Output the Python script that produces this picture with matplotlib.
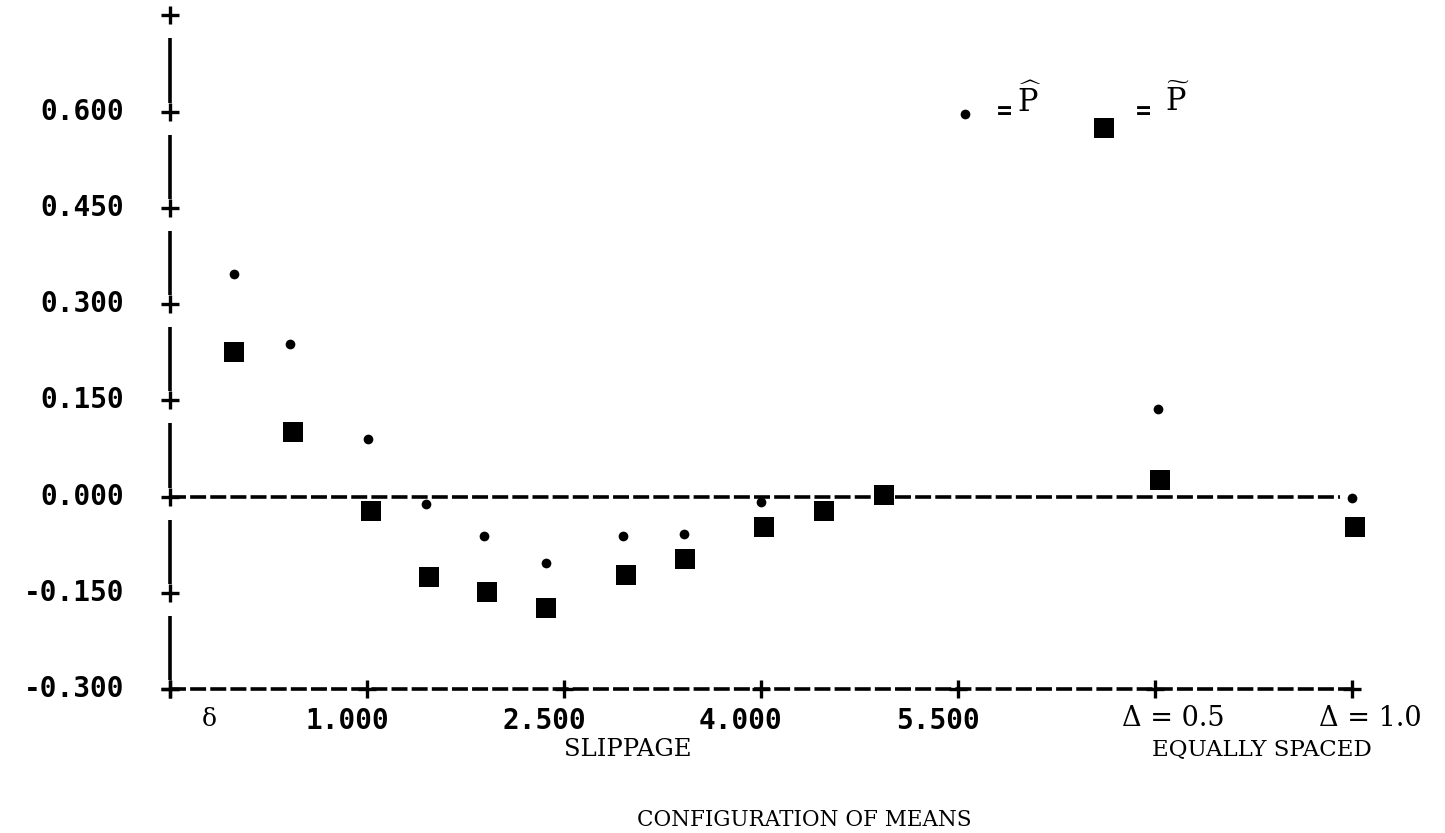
import matplotlib
matplotlib.use('Agg')
import matplotlib.pyplot as plt
from matplotlib.transforms import ScaledTranslation

plt.rcParams['lines.scale_dashes'] = False

# ---- data ----
# P-tilde (large squares)
sq_x = [-0.01, 0.44, 1.03, 1.47, 1.91, 2.36, 2.97, 3.42, 4.02, 4.48, 4.94, 7.04, 8.52]
sq_y = [0.226, 0.101, -0.023, -0.125, -0.149, -0.173, -0.123, -0.097, -0.047, -0.022, 0.003, 0.026, -0.048]
# P-hat (small dots)
dot_x = [-0.01, 0.41, 1.01, 1.45, 1.89, 2.36, 2.95, 3.41, 4.00, 7.02, 8.50]
dot_y = [0.347, 0.238, 0.089, -0.011, -0.061, -0.103, -0.061, -0.059, -0.009, 0.137, -0.003]

y_ticks = [-0.3, -0.15, 0.0, 0.15, 0.3, 0.45, 0.6, 0.75]
y_labels = ['-0.300', '-0.150', '0.000', '0.150', '0.300', '0.450', '0.600', '']
x_ticks = [-0.5, 1.0, 2.5, 4.0, 5.5, 7.0, 8.5]
x_num_labels = ['', '1.000', '2.500', '4.000', '5.500']
x_delta_labels = ['\u0394 = 0.5', '\u0394 = 1.0']

W, H = 1445, 833
fig = plt.figure(figsize=(W / 100, H / 100), dpi=100)
ax = fig.add_axes([170 / W, (H - 689) / H, 1182 / W, (689 - 15.35) / H])
ax.set_xlim(-0.5, 8.5)
ax.set_ylim(-0.3, 0.75)
ax.axis('off')

lw = 2.6
# vertical axis segments between ticks
for i in range(len(y_ticks) - 1):
    ax.plot([-0.5, -0.5], [y_ticks[i] + 0.014, y_ticks[i + 1] - 0.036],
            color='black', lw=lw, solid_capstyle='butt', clip_on=False)
# bottom axis dashed line
ax.plot([x_ticks[0], x_ticks[-1]], [-0.3, -0.3], color='black', lw=lw,
        linestyle=(0, (11.5, 3.0)), clip_on=False)
# zero reference dashed line
ax.plot([-0.5, 8.41], [0.0, 0.0], color='black', lw=lw,
        linestyle=(0, (11.5, 3.0)), clip_on=False)
# plus tick marks
ax.plot([-0.5] * len(y_ticks), y_ticks, linestyle='none', marker='+',
        ms=13, mew=2.4, color='black', clip_on=False)
ax.plot(x_ticks, [-0.3] * len(x_ticks), linestyle='none', marker='+',
        ms=13, mew=2.4, color='black', clip_on=False)

# data points
ax.plot(sq_x, sq_y, linestyle='none', marker='s', ms=14.5, mew=0,
        color='black', clip_on=False)
ax.plot(dot_x, dot_y, linestyle='none', marker='o', ms=7, mew=0,
        color='black', clip_on=False)

mono_b = dict(family='DejaVu Sans Mono', weight='bold', size=20)

def px_off(dx, dy):
    return ax.transData + ScaledTranslation(dx / 100, dy / 100, fig.dpi_scale_trans)

# y tick labels
for t, lab in zip(y_ticks, y_labels):
    if lab:
        ax.text(-0.5, t, lab, transform=px_off(-46, 0), ha='right', va='center',
                **mono_b)

# x tick labels
for t, lab in zip(x_ticks[:5], x_num_labels):
    if lab:
        ax.text(t, -0.3, lab, transform=px_off(-20, -32), ha='center',
                va='center', **mono_b)
ax.text(-0.2, -0.3, '\u03b4', transform=px_off(0, -30), ha='center',
        va='center', family='DejaVu Serif', size=18)
for t, lab in zip(x_ticks[5:], x_delta_labels):
    ax.text(t, -0.3, lab, transform=px_off(18, -30), ha='center',
            va='center', family='DejaVu Serif', size=19.5)

def ftext(px, py, s, **kw):
    fig.text(px / W, 1 - py / H, s, **kw)

ftext(628, 750, 'SLIPPAGE', ha='center', va='center', family='DejaVu Serif', size=17.5)
ftext(1262, 750, 'EQUALLY SPACED', ha='center', va='center', family='DejaVu Serif', size=16.5)
ftext(804, 820, 'CONFIGURATION OF MEANS', ha='center', va='center', family='DejaVu Serif', size=15.5)

# legend
ax.plot([5.55], [0.597], linestyle='none', marker='o', ms=7, mew=0,
        color='black', clip_on=False)
ax.plot([6.61], [0.575], linestyle='none', marker='s', ms=14.5, mew=0,
        color='black', clip_on=False)
ftext(1004, 112, '=', ha='center', va='center', family='DejaVu Sans Mono',
      weight='bold', size=18)
ftext(1029, 100, r'$\widehat{\mathrm{P}}$', ha='center', va='center',
      math_fontfamily='dejavuserif', size=22)
ftext(1143, 112, '=', ha='center', va='center', family='DejaVu Sans Mono',
      weight='bold', size=18)
ftext(1177, 100, r'$\widetilde{\mathrm{P}}$', ha='center', va='center',
      math_fontfamily='dejavuserif', size=22)

fig.savefig('out.png', dpi=100, facecolor='white')
